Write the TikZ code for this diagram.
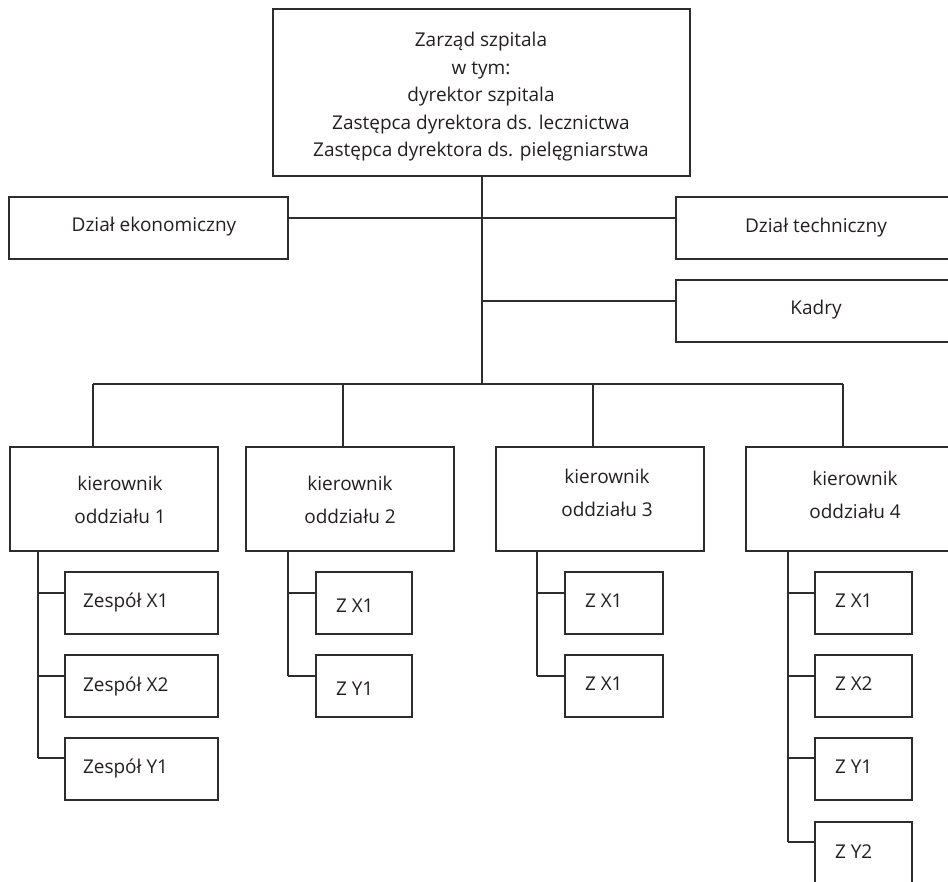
\documentclass[tikz,border=0pt]{standalone}
\usepackage{fontspec}
\setmainfont{Open Sans}
\definecolor{ink}{RGB}{35,31,32}
\definecolor{rule}{RGB}{45,45,45}
\begin{document}
\begin{tikzpicture}[x=1pt,y=-1pt,
  every node/.style={inner sep=0pt, outer sep=0pt},
  unit/.style={draw=rule, line width=1.1pt, anchor=north west, minimum height=62pt},
  link/.style={draw=rule, line width=1.1pt},
  ctext/.style={text=ink, font=\fontsize{19}{27.5}\selectfont, anchor=base, align=center},
  ltext/.style={text=ink, font=\fontsize{19}{22}\selectfont, anchor=base west},
  ktext/.style={text=ink, font=\fontsize{19}{33}\selectfont, anchor=base, align=center}]
\useasboundingbox (0,0) rectangle (948,882);
\clip (0,0) rectangle (948,882);

% management board (multi-line texts are placed by the baseline of their last line)
\node[unit, minimum width=417pt, minimum height=167pt] (board) at (273,9) {};
\node[ctext] (boardtxt) at (481,157) {Zarząd szpitala\\w tym:\\dyrektor szpitala\\Zastępca dyrektora ds. lecznictwa\\Zastępca dyrektora ds. pielęgniarstwa};

% staff departments
\node[unit, minimum width=279pt] (ekon) at (9,197) {};
\node[ctext] (ekontxt) at (154,232) {Dział ekonomiczny};
\node[unit, minimum width=279pt] (tech) at (676,197) {};
\node[ctext] (techtxt) at (816,232.5) {Dział techniczny};
\node[unit, minimum width=279pt] (kadry) at (676,280) {};
\node[ctext] (kadrytxt) at (816,315) {Kadry};

% ward heads
\node[unit, minimum width=208pt, minimum height=104pt] (k1) at (10,447) {};
\node[ktext] (k1txt) at (120,523) {kierownik\\oddziału 1};
\node[unit, minimum width=208pt, minimum height=104pt] (k2) at (246,447) {};
\node[ktext] (k2txt) at (350,523) {kierownik\\oddziału 2};
\node[unit, minimum width=208pt, minimum height=104pt] (k3) at (496,447) {};
\node[ktext] (k3txt) at (607,516) {kierownik\\oddziału 3};
\node[unit, minimum width=208pt, minimum height=104pt] (k4) at (746,447) {};
\node[ktext] (k4txt) at (855,518) {kierownik\\oddziału 4};

% teams of ward 1
\node[unit, minimum width=153pt] (z11) at (65,572) {};
\node[ltext] (z11txt) at (83,607.5) {Zespół X1};
\node[unit, minimum width=153pt] (z12) at (65,655) {};
\node[ltext] (z12txt) at (83,691) {Zespół X2};
\node[unit, minimum width=153pt] (z13) at (65,738) {};
\node[ltext] (z13txt) at (83,773) {Zespół Y1};

% teams of ward 2
\node[unit, minimum width=96pt] (z21) at (316,572) {};
\node[ltext] (z21txt) at (336,612) {Z X1};
\node[unit, minimum width=96pt] (z22) at (316,655) {};
\node[ltext] (z22txt) at (336,695.5) {Z Y1};

% teams of ward 3
\node[unit, minimum width=98pt] (z31) at (565,572) {};
\node[ltext] (z31txt) at (585,607) {Z X1};
\node[unit, minimum width=98pt] (z32) at (565,655) {};
\node[ltext] (z32txt) at (585,690) {Z X1};

% teams of ward 4
\node[unit, minimum width=97pt] (z41) at (815,572) {};
\node[ltext] (z41txt) at (835,607) {Z X1};
\node[unit, minimum width=97pt] (z42) at (815,655) {};
\node[ltext] (z42txt) at (835,690) {Z X2};
\node[unit, minimum width=97pt] (z43) at (815,738) {};
\node[ltext] (z43txt) at (835,773) {Z Y1};
\node[unit, minimum width=97pt] (z44) at (815,822) {};
\node[ltext] (z44txt) at (835,858) {Z Y2};

% trunk and branches of the board
\coordinate (j1) at (482,218);
\coordinate (j2) at (482,301);
\coordinate (hub) at (482,384);
\draw[link] (board.south -| hub) -- (hub);
\draw[link] (j1) -- (j1 -| ekon.east);
\draw[link] (j1) -- (j1 -| tech.west);
\draw[link] (j2) -- (j2 -| kadry.west);

% bus to the ward heads
\coordinate (b1) at (93,384);
\coordinate (b2) at (343,384);
\coordinate (b3) at (593,384);
\coordinate (b4) at (843,384);
\draw[link] (b1) -- (b4);
\draw[link] (b1) -- (b1 |- k1.north);
\draw[link] (b2) -- (b2 |- k2.north);
\draw[link] (b3) -- (b3 |- k3.north);
\draw[link] (b4) -- (b4 |- k4.north);

% rails from the ward heads to their teams
\coordinate (r11) at (38,593);
\coordinate (r12) at (38,676);
\coordinate (r13) at (38,758);
\draw[link] (r13 |- k1.south) -- (r13);
\draw[link] (r11) -- (r11 -| z11.west);
\draw[link] (r12) -- (r12 -| z12.west);
\draw[link] (r13) -- (r13 -| z13.west);

\coordinate (r21) at (288,593);
\coordinate (r22) at (288,676);
\draw[link] (r22 |- k2.south) -- (r22);
\draw[link] (r21) -- (r21 -| z21.west);
\draw[link] (r22) -- (r22 -| z22.west);

\coordinate (r31) at (537,593);
\coordinate (r32) at (537,676);
\draw[link] (r32 |- k3.south) -- (r32);
\draw[link] (r31) -- (r31 -| z31.west);
\draw[link] (r32) -- (r32 -| z32.west);

\coordinate (r41) at (788,593);
\coordinate (r42) at (788,676);
\coordinate (r43) at (788,758);
\coordinate (r44) at (788,842);
\draw[link] (r44 |- k4.south) -- (r44);
\draw[link] (r41) -- (r41 -| z41.west);
\draw[link] (r42) -- (r42 -| z42.west);
\draw[link] (r43) -- (r43 -| z43.west);
\draw[link] (r44) -- (r44 -| z44.west);
\end{tikzpicture}
\end{document}
